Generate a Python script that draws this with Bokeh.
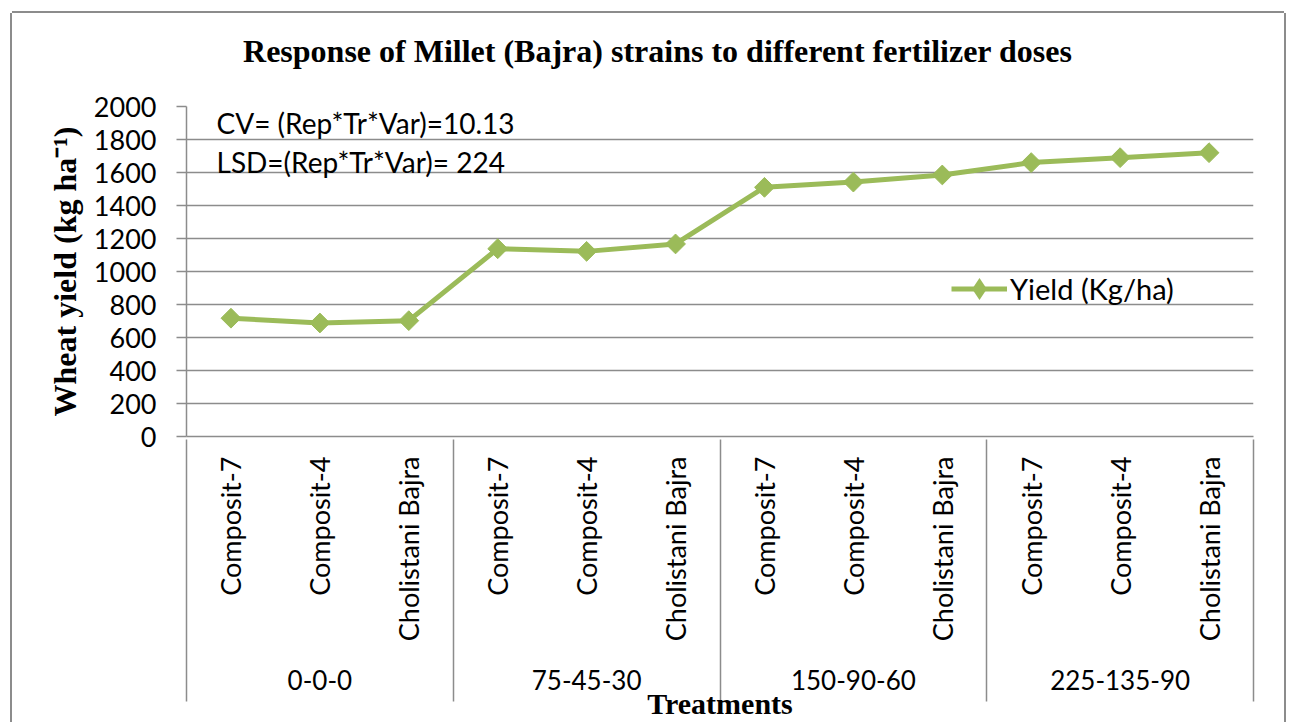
import numpy as np
from bokeh.plotting import figure
from bokeh.models import Range1d, FixedTicker, LinearAxis, Label, Legend, LegendItem
from bokeh.embed import file_html
from bokeh.resources import INLINE

# ---------------- data ----------------
treatments = ["0-0-0", "75-45-30", "150-90-60", "225-135-90"]
strains = ["Composit-7", "Composit-4", "Cholistani Bajra"]
yield_kg_ha = [717, 688, 702, 1138, 1122, 1167, 1510, 1542, 1585, 1660, 1690, 1720]
y_ticks = [0, 200, 400, 600, 800, 1000, 1200, 1400, 1600, 1800, 2000]
series_name = "Yield (Kg/ha)"
title_text = "Response of Millet (Bajra) strains to different fertilizer doses"
y_title = "Wheat yield (kg ha\u207b\u00b9)"
x_title = "Treatments"
notes = ["CV= (Rep*Tr*Var)=10.13", "LSD=(Rep*Tr*Var)= 224"]
note_levels = [1903, 1662]

# ---------------- derived positions ----------------
n_s = len(strains)
n_t = len(treatments)
x = [i + 1 for i in range(n_s * n_t)]
sub_labels = [s for t in treatments for s in strains]
group_centers = [g * n_s + (n_s + 1) // 2 for g in range(n_t)]
group_edges = [g * n_s + 0.5 for g in range(n_t + 1)]
x_start, x_end = 0.5, n_s * n_t + 0.5
title_anchor = 5.8   # title is centred on the whole chart, a bit left of the plot centre

GREEN = "#9BBB59"
GRID = "#8c8c8c"
SANS = "Lato"
SERIF = "Liberation Serif"

p = figure(width=1272, height=709,
           x_range=Range1d(x_start, x_end),
           y_range=Range1d(y_ticks[0], y_ticks[-1]),
           output_backend="svg", toolbar_location=None,
           min_border_left=174, min_border_right=31,
           min_border_top=93, min_border_bottom=285)
p.outline_line_color = None
p.background_fill_color = "white"
p.border_fill_color = "white"
p.styles = {"margin-left": "12px", "margin-top": "13px",
            "box-shadow": "-2px 0 0 0 #8c8c8c, 0 -2px 0 0 #8c8c8c, 2px 0 0 0 #8c8c8c"}

xax = p.below[0]
yax = p.left[0]

# y axis
yax.ticker = FixedTicker(ticks=y_ticks)
yax.axis_line_color = GRID
yax.axis_line_width = 1.5
yax.major_tick_line_color = GRID
yax.major_tick_line_width = 1.5
yax.major_tick_out = 10
yax.major_tick_in = 0
yax.minor_tick_line_color = None
yax.major_label_text_font = SANS
yax.major_label_text_font_size = "27px"
yax.major_label_text_color = "black"
yax.major_label_standoff = 20
yax.axis_label = y_title
yax.axis_label_text_font = SERIF
yax.axis_label_text_font_style = "bold"
yax.axis_label_text_font_size = "32px"
yax.axis_label_text_color = "black"
yax.axis_label_standoff = 8

# grid
p.ygrid.ticker = FixedTicker(ticks=y_ticks)
p.ygrid.grid_line_color = GRID
p.ygrid.grid_line_width = 1.5
p.xgrid.visible = False

# x axis: strain labels
xax.ticker = FixedTicker(ticks=x)
xax.major_label_overrides = {xi: lab for xi, lab in zip(x, sub_labels)}
xax.major_label_orientation = np.pi / 2
xax.major_tick_out = 0
xax.major_tick_in = 0
xax.major_tick_line_color = None
xax.minor_tick_line_color = None
xax.axis_line_color = GRID
xax.axis_line_width = 1.5
xax.major_label_standoff = 20
xax.major_label_text_font = SANS
xax.major_label_text_font_size = "27px"
xax.major_label_text_color = "black"

# chart title (as the label of an axis above the plot)
tax = LinearAxis(ticker=FixedTicker(ticks=[title_anchor]),
                 major_label_overrides={title_anchor: title_text},
                 axis_line_color=None, major_tick_line_color=None,
                 minor_tick_line_color=None, major_tick_out=0, major_tick_in=0,
                 major_label_standoff=38,
                 major_label_text_font=SERIF, major_label_text_font_style="bold",
                 major_label_text_font_size="32px", major_label_text_color="black")
p.add_layout(tax, "above")

# group (treatment) axis
gax = LinearAxis(ticker=FixedTicker(ticks=group_centers),
                 major_label_overrides={c: t for c, t in zip(group_centers, treatments)},
                 axis_line_color=None, major_tick_line_color=None,
                 minor_tick_line_color=None, major_tick_out=0, major_tick_in=0,
                 major_label_standoff=25,
                 major_label_text_font=SANS, major_label_text_font_size="26px",
                 major_label_text_color="black")
p.add_layout(gax, "below")

# separator axis: inward minor ticks reach back up to the category axis line;
# its label is the x title
sax = LinearAxis(ticker=FixedTicker(ticks=[], minor_ticks=group_edges),
                 axis_line_color=None, major_tick_line_color=None,
                 major_tick_out=0, major_tick_in=0,
                 minor_tick_out=9, minor_tick_in=253,
                 minor_tick_line_color=GRID, minor_tick_line_width=1.5,
                 major_label_text_font_size="0px", major_label_standoff=0,
                 axis_label=x_title, axis_label_standoff=-15,
                 axis_label_text_font=SERIF, axis_label_text_font_style="bold",
                 axis_label_text_font_size="30px", axis_label_text_color="black")
p.add_layout(sax, "below")

# series
r_line = p.line(x, yield_kg_ha, line_width=5, color=GREEN)
r_pts = p.scatter(x, yield_kg_ha, marker="square", angle=np.pi / 4, size=14,
                  color=GREEN)
# legend key marker (diamond); zero size so it draws nothing on the plot itself
r_key = p.scatter(x, yield_kg_ha, marker="diamond", size=0,
                  fill_color=GREEN, line_color=None)

legend = Legend(items=[LegendItem(label=series_name, renderers=[r_line, r_key])],
                location=(765, 120), background_fill_alpha=0,
                border_line_color=None, padding=0, margin=0,
                glyph_width=56, glyph_height=55, label_standoff=3,
                label_text_font=SANS, label_text_font_size="29px",
                label_text_color="black")
p.add_layout(legend)

# notes
for txt, lvl in zip(notes, note_levels):
    p.add_layout(Label(x=x_start, y=lvl, x_offset=30, text=txt,
                       text_baseline="middle", text_font=SANS,
                       text_font_size="28px", text_color="black"))

open("out.html", "w").write(file_html(p, INLINE))
